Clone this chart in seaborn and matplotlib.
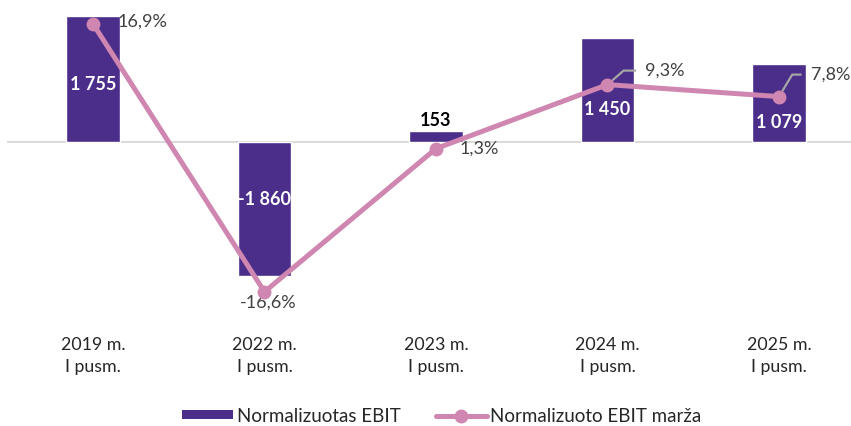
import numpy as np
import pandas as pd
import matplotlib
matplotlib.use("Agg")
import matplotlib.pyplot as plt
import seaborn as sns

# ---- data ----
periods = ["2019 m.\nI pusm.", "2022 m.\nI pusm.", "2023 m.\nI pusm.", "2024 m.\nI pusm.", "2025 m.\nI pusm."]
ebit = [1755, -1860, 153, 1450, 1079]
ebit_labels = ["1 755", "-1 860", "153", "1 450", "1 079"]
margin = [16.9, -16.6, 1.3, 9.3, 7.8]
margin_labels = ["16,9%", "-16,6%", "1,3%", "9,3%", "7,8%"]
series_names = ["Normalizuotas EBIT", "Normalizuoto EBIT marža"]

# ---- style ----
BAR = "#4B2D8A"
PINK = "#CF86B0"
TXT = "#404040"
sns.set_style("white")
plt.rcParams["font.family"] = ["Lato", "DejaVu Sans"]

W, H = 851, 426
fig = plt.figure(figsize=(W / 100, H / 100), dpi=100)
left_px, right_px, top_px, bot_px = 7.25, 864.75, 10, 320
ax = fig.add_axes([left_px / W, 1 - bot_px / H, (right_px - left_px) / W, (bot_px - top_px) / H])

df = pd.DataFrame({"period": periods, "ebit": ebit, "margin": margin})
df["pos"] = np.arange(len(df))

sns.barplot(data=df, x="period", y="ebit", color=BAR, saturation=1, width=0.31, ax=ax, zorder=2)
ax.set_xlim(-0.5, len(periods) - 0.5)
ax.set_ylim(-2474, 1835)
ax.axhline(0, color="#D9D9D9", lw=1.4, zorder=1)
ax.set_xlabel("")
ax.set_ylabel("")
ax.set_yticks([])
ax.set_xticks(range(len(periods)))
ax.set_xticklabels(periods, fontsize=12.8, color="#262626", linespacing=1.45)
ax.tick_params(axis="x", length=0, pad=12)
for s in ax.spines.values():
    s.set_visible(False)

# bar value labels (relative to bar middle, pixel nudges)
bar_nudge = [-6, 9, 16, -20, -19]
bar_colors = ["white", "white", "black", "white", "white"]
for i, (v, lab) in enumerate(zip(ebit, ebit_labels)):
    ax.annotate(lab, xy=(i, v / 2), xytext=(0, bar_nudge[i]), textcoords="offset pixels",
                ha="center", va="center", fontsize=13, fontweight="bold", color=bar_colors[i], zorder=3)

# secondary axis line
ax2 = ax.twinx()
sns.lineplot(data=df, x="pos", y="margin", ax=ax2, color=PINK, lw=3.6, marker="o",
             markersize=10, markeredgewidth=0, zorder=4)
ax2.set_ylim(-20.125, 18.625)
ax2.set_xlim(-0.5, len(periods) - 0.5)
ax2.set_yticks([])
ax2.set_ylabel("")
ax2.set_xlabel("")
for s in ax2.spines.values():
    s.set_visible(False)

pct_off = [(25, 2), (4, -11), (24, 0), (38, 14), (32, 22)]
pct_ha = ["left", "center", "left", "left", "left"]
leader_angle = [None, None, None, 41, 59]
for i, (v, lab) in enumerate(zip(margin, margin_labels)):
    kw = {}
    if leader_angle[i] is not None:
        kw["arrowprops"] = dict(arrowstyle="-", color="#A6A6A6", lw=1.6,
                                connectionstyle=f"angle,angleA=180,angleB={leader_angle[i]},rad=0",
                                relpos=(0, 0.5), shrinkA=5, shrinkB=5)
    ax2.annotate(lab, xy=(i, v), xytext=pct_off[i], textcoords="offset pixels",
                 ha=pct_ha[i], va="center", fontsize=13, color=TXT, **kw)

# legend
from matplotlib.patches import Patch
from matplotlib.lines import Line2D
handles = [Patch(facecolor=BAR, edgecolor="none"),
           Line2D([], [], color=PINK, lw=3.6, marker="o", markersize=10, markeredgewidth=0)]
fig.legend(handles, series_names, loc="center", bbox_to_anchor=(442 / W, 1 - 416 / H),
           ncol=2, frameon=False, fontsize=13.5, handlelength=2.7, handleheight=0.35,
           handletextpad=0.2, columnspacing=1.9, borderpad=0, labelcolor="#262626")

fig.savefig("out.png", dpi=100)
